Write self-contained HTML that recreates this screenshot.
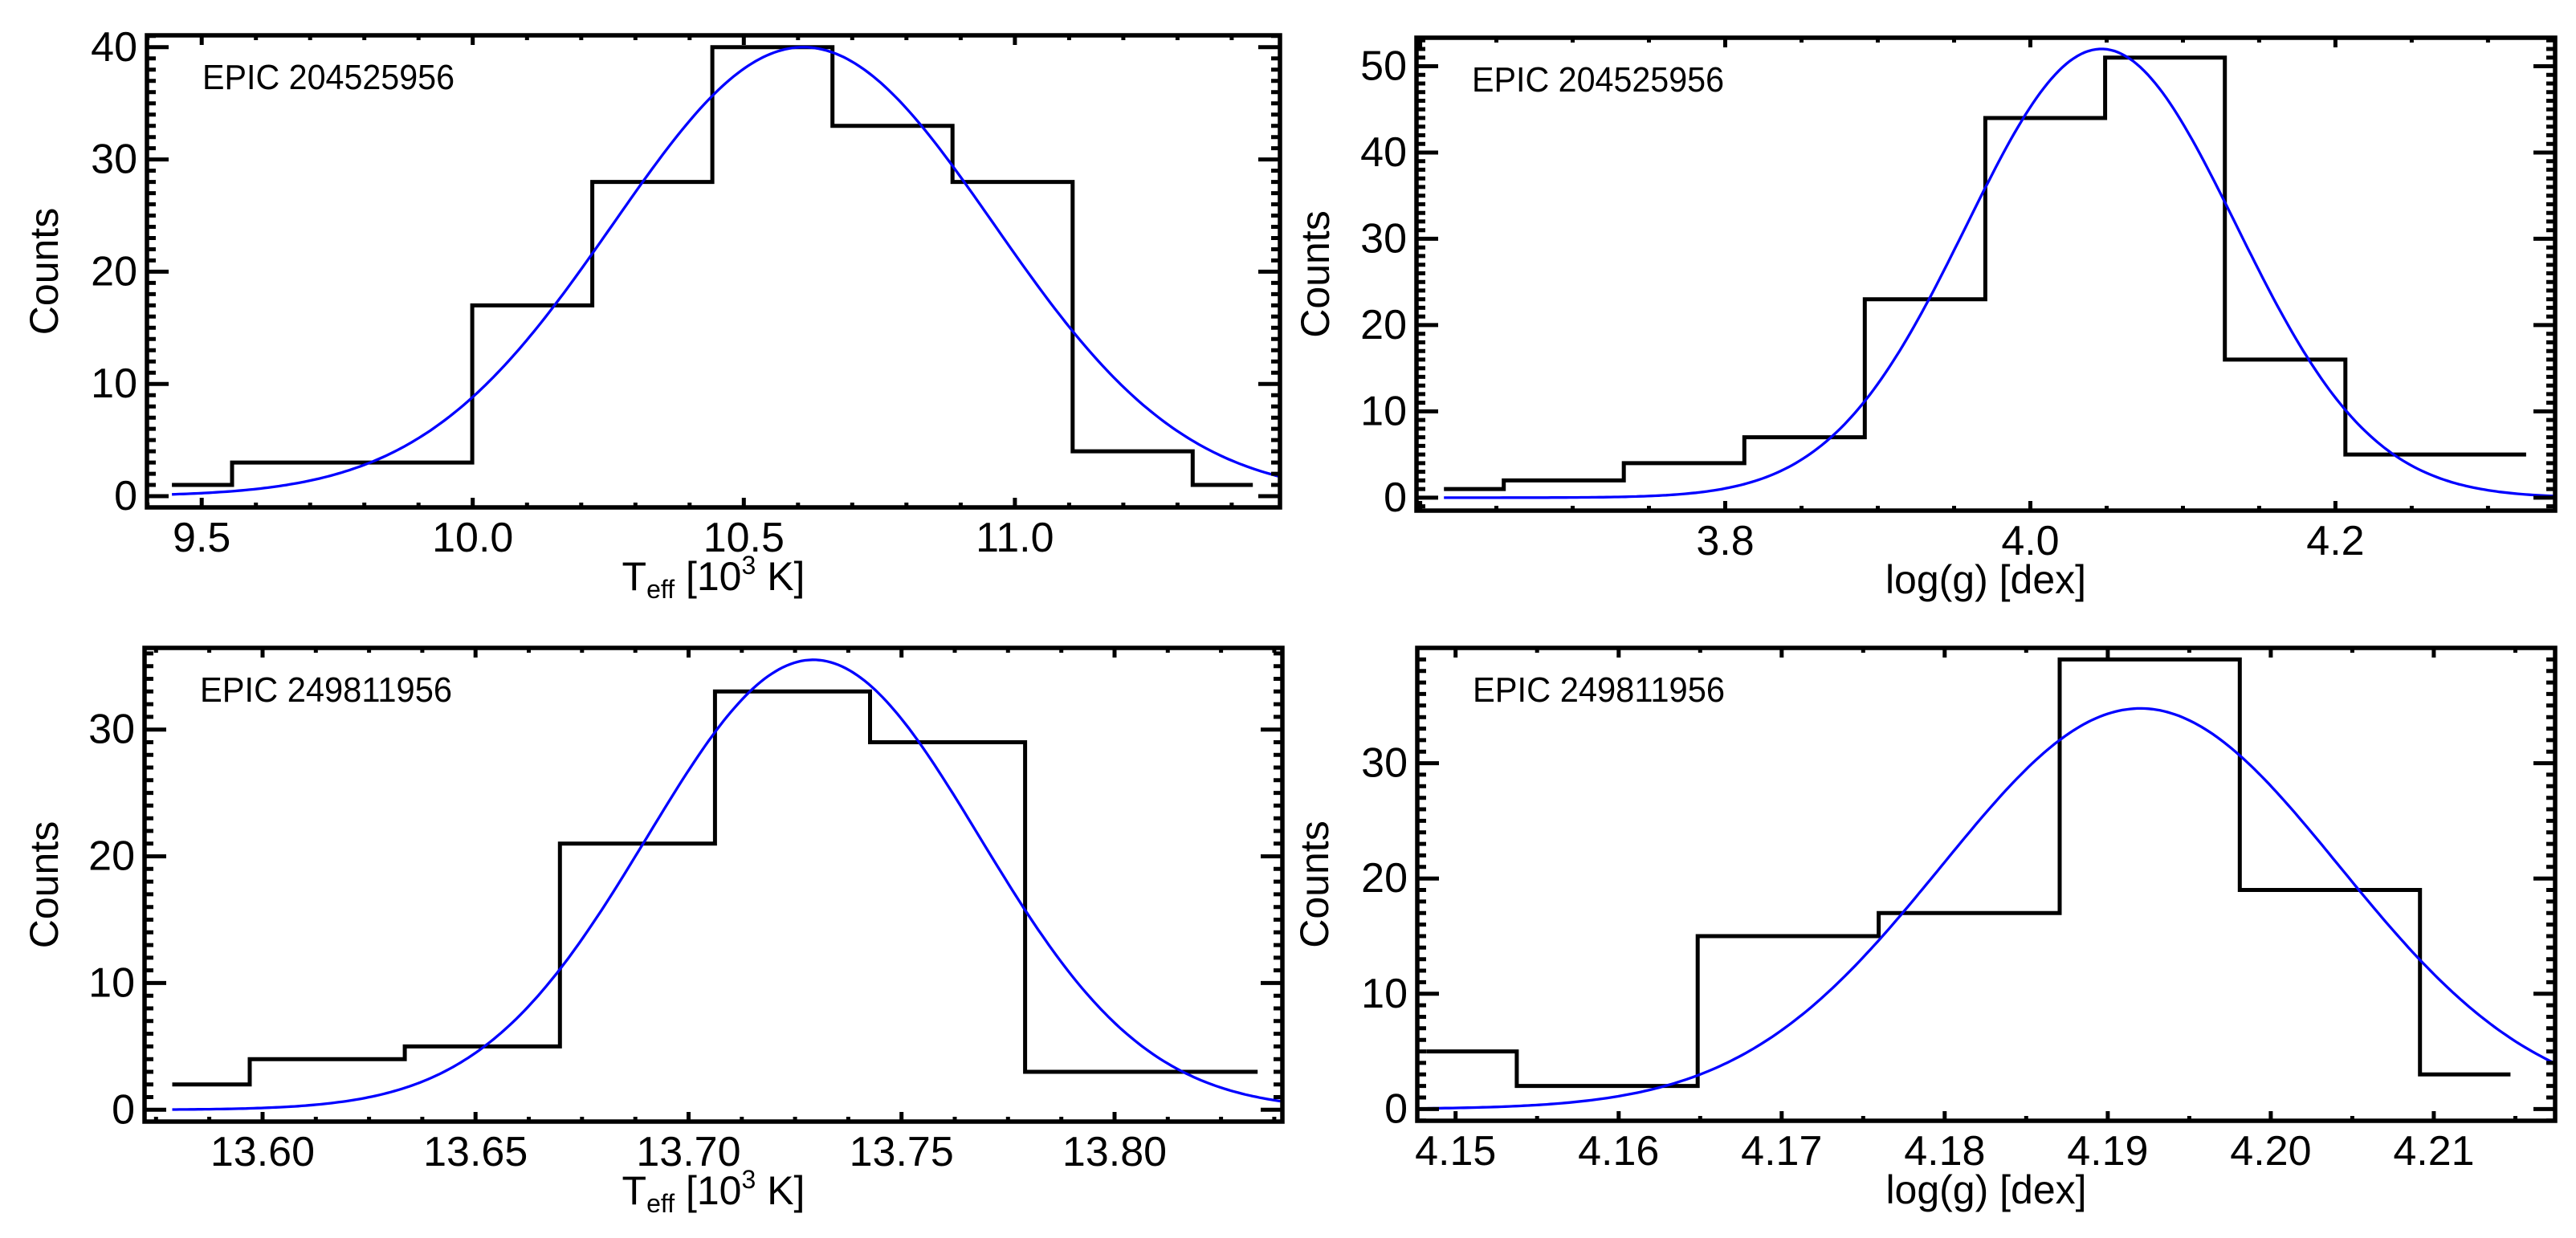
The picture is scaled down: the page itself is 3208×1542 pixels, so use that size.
<!DOCTYPE html>
<html><head><meta charset="utf-8">
<style>
html,body{margin:0;padding:0;background:#fff;}
svg{display:block;font-family:"Liberation Sans",sans-serif;}
</style></head>
<body>
<svg id="fig" width="3208" height="1542" viewBox="0 0 3208 1542" xmlns="http://www.w3.org/2000/svg"></svg>
<script>
// ---- Panel 1: EPIC 204525956 Teff ----
const p1BinCenters = [9.445, 9.667, 9.888, 10.110, 10.331, 10.553, 10.774, 10.996, 11.217, 11.439];
const p1Counts = [1, 3, 3, 17, 28, 40, 33, 28, 4, 1];
const p1Fit = [40, 10.61, 0.351]; // amplitude, mean, sigma
const p1XTicks = [9.5, 10.0, 10.5, 11.0];
const p1XTickLabels = ["9.5", "10.0", "10.5", "11.0"];
const p1YTicks = [0, 10, 20, 30, 40];
const p1YTickLabels = ["0", "10", "20", "30", "40"];

// ---- Panel 2: EPIC 204525956 log g ----
const p2BinCenters = [3.6156, 3.694, 3.773, 3.852, 3.931, 4.010, 4.088, 4.167, 4.246, 4.325];
const p2Counts = [1, 2, 4, 7, 23, 44, 51, 16, 5, 5];
const p2Fit = [52, 4.0466, 0.0885];
const p2XTicks = [3.8, 4.0, 4.2];
const p2XTickLabels = ["3.8", "4.0", "4.2"];
const p2YTicks = [0, 10, 20, 30, 40, 50];
const p2YTickLabels = ["0", "10", "20", "30", "40", "50"];

// ---- Panel 3: EPIC 249811956 Teff ----
const p3BinCenters = [13.5788, 13.6152, 13.6516, 13.688, 13.7244, 13.7608, 13.7972, 13.8336];
const p3Counts = [2, 4, 5, 21, 33, 29, 3, 3];
const p3Fit = [35.5, 13.7293, 0.039];
const p3XTicks = [13.60, 13.65, 13.70, 13.75, 13.80];
const p3XTickLabels = ["13.60", "13.65", "13.70", "13.75", "13.80"];
const p3YTicks = [0, 10, 20, 30];
const p3YTickLabels = ["0", "10", "20", "30"];

// ---- Panel 4: EPIC 249811956 log g ----
const p4BinCenters = [4.1482, 4.1593, 4.1704, 4.1815, 4.1926, 4.2036, 4.2147];
const p4Counts = [5, 2, 15, 17, 39, 19, 3];
const p4Fit = [34.75, 4.192, 0.0122];
const p4XTicks = [4.15, 4.16, 4.17, 4.18, 4.19, 4.20, 4.21];
const p4XTickLabels = ["4.15", "4.16", "4.17", "4.18", "4.19", "4.20", "4.21"];
const p4YTicks = [0, 10, 20, 30];
const p4YTickLabels = ["0", "10", "20", "30"];

const NS = "http://www.w3.org/2000/svg";
const svg = document.getElementById("fig");
function mk(tag, attrs, parent) {
  const e = document.createElementNS(NS, tag);
  for (const k in attrs) e.setAttribute(k, attrs[k]);
  (parent || svg).appendChild(e);
  return e;
}

const panels = [
  {id:"teff-204525956", box:[183,44,1594,632], xr:[9.399,11.489], yr:[-1,41.06], centers:p1BinCenters, counts:p1Counts, fit:p1Fit,
   xt:p1XTicks, xtl:p1XTickLabels, yt:p1YTicks, ytl:p1YTickLabels, xminor:0.1, label:"EPIC 204525956", xtitle:"teff", countsX:54},
  {id:"logg-204525956", box:[1764,47,3182,636], xr:[3.5976,4.344], yr:[-1.5,53.3], centers:p2BinCenters, counts:p2Counts, fit:p2Fit,
   xt:p2XTicks, xtl:p2XTickLabels, yt:p2YTicks, ytl:p2YTickLabels, xminor:0.05, label:"EPIC 204525956", xtitle:"logg", countsX:1637},
  {id:"teff-249811956", box:[180,807,1597,1397], xr:[13.5723,13.8394], yr:[-0.93,36.44], centers:p3BinCenters, counts:p3Counts, fit:p3Fit,
   xt:p3XTicks, xtl:p3XTickLabels, yt:p3YTicks, ytl:p3YTickLabels, xminor:0.0125, label:"EPIC 249811956", xtitle:"teff", countsX:54},
  {id:"logg-249811956", box:[1765,807,3182,1396], xr:[4.14765,4.21744], yr:[-1.02,40], centers:p4BinCenters, counts:p4Counts, fit:p4Fit,
   xt:p4XTicks, xtl:p4XTickLabels, yt:p4YTicks, ytl:p4YTickLabels, xminor:0.005, label:"EPIC 249811956", xtitle:"logg", countsX:1636}
];

panels.forEach(p => {
  const [L,T,R,B] = p.box;
  const sx = v => L + (v - p.xr[0]) / (p.xr[1] - p.xr[0]) * (R - L);
  const sy = v => B - (v - p.yr[0]) / (p.yr[1] - p.yr[0]) * (B - T);
  const g = mk("g", {});
  
  

  // clip
  const cid = "clip-" + p.id;
  const cp = mk("clipPath", {id: cid}, g);
  mk("rect", {x:L, y:T, width:R-L, height:B-T}, cp);

  // histogram (step, IDL psym=10 style)
  let d = "";
  const c = p.centers, n = p.counts;
  for (let i = 0; i < c.length; i++) {
    const lo = i === 0 ? c[0] : (c[i-1] + c[i]) / 2;
    const hi = i === c.length - 1 ? c[i] : (c[i] + c[i+1]) / 2;
    d += (i === 0 ? "M" : "L") + sx(lo).toFixed(1) + "," + sy(n[i]).toFixed(1) + " L" + sx(hi).toFixed(1) + "," + sy(n[i]).toFixed(1) + " ";
  }
  const hist = mk("path", {d:d, fill:"none", stroke:"#000", "stroke-width":5, "stroke-linejoin":"miter"}, g);
  
  

  // gaussian fit
  const [A, mu, sg] = p.fit;
  let gd = "";
  const x0 = c[0], x1 = p.xr[1];
  for (let k = 0; k <= 300; k++) {
    const x = x0 + (x1 - x0) * k / 300;
    const y = A * Math.exp(-((x - mu) ** 2) / (2 * sg * sg));
    gd += (k ? "L" : "M") + sx(x).toFixed(1) + "," + sy(y).toFixed(1);
  }
  const fit = mk("path", {d:gd, fill:"none", stroke:"#0000ff", "stroke-width":3.3, "clip-path":"url(#"+cid+")"}, g);
  
  

  // ticks
  let td = "";
  // y major + minor (every 1), left & right
  for (let v = Math.ceil(p.yr[0]); v <= p.yr[1]; v++) {
    const y = sy(v).toFixed(1);
    const len = (v % 10 === 0) ? 27 : 11;
    td += `M${L},${y}h${len}M${R},${y}h${-len}`;
  }
  // x major + minor, bottom & top
  const nmin = Math.ceil(p.xr[0] / p.xminor - 1e-6), nmax = Math.floor(p.xr[1] / p.xminor + 1e-6);
  for (let k = nmin; k <= nmax; k++) {
    const v = k * p.xminor;
    const isMaj = p.xt.some(t => Math.abs(t - v) < p.xminor / 10) || Math.abs(Math.round(v / (p.xt[1]-p.xt[0])) * (p.xt[1]-p.xt[0]) - v) < p.xminor/10;
    const x = sx(v).toFixed(1);
    const len = isMaj ? 12 : 6;
    td += `M${x},${B}v${-len}M${x},${T}v${len}`;
  }
  const ticks = mk("path", {d:td, stroke:"#000", "stroke-width":5, fill:"none"}, g);
  
  

  // frame
  const fr = mk("rect", {x:L, y:T, width:R-L, height:B-T, fill:"none", stroke:"#000", "stroke-width":5.5}, g);
  
  

  // x tick labels
  p.xt.forEach((v, i) => {
    const t = mk("text", {x:sx(v), y:B+55, "font-size":52, "text-anchor":"middle", fill:"#000"}, g);
    t.textContent = p.xtl[i];
    
    
  });
  // y tick labels
  p.yt.forEach((v, i) => {
    const t = mk("text", {x:L-12, y:sy(v)+17, "font-size":52, "text-anchor":"end", fill:"#000"}, g);
    t.textContent = p.ytl[i];
    
    
  });

  // star label
  const lab = mk("text", {x:L+69, y:T+67, "font-size":44, fill:"#000", textLength:314, lengthAdjust:"spacingAndGlyphs"}, g);
  lab.textContent = p.label;
  
  

  // y title
  const cy = (T + B) / 2;
  const yt = mk("text", {x:0, y:0, "font-size":50, "text-anchor":"middle", fill:"#000",
    transform:`translate(${p.countsX + 18},${cy}) rotate(-90)`}, g);
  yt.textContent = "Counts";
  
  

  // x title
  const cx = (L + R) / 2;
  const base = B + 103;
  const xt = mk("text", {x:cx, y:base, "font-size":50, "text-anchor":"middle", fill:"#000"}, g);
  if (p.xtitle === "teff") {
    xt.innerHTML = 'T<tspan font-size="32" dy="10">eff</tspan><tspan dy="-10"> [10</tspan><tspan font-size="32" dy="-20">3</tspan><tspan dy="20"> K]</tspan>';
  } else {
    xt.textContent = "log(g) [dex]";
  }
  
  
});
</script>
</body></html>
